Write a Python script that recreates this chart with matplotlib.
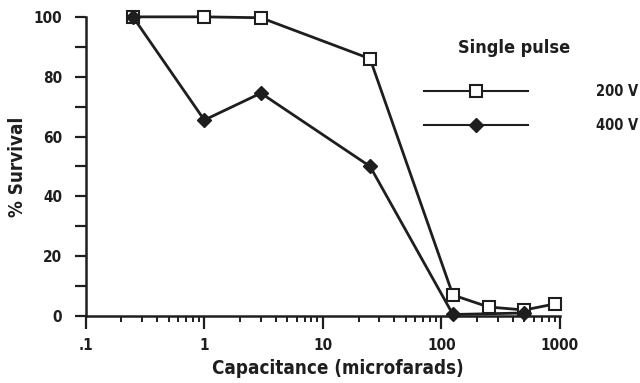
import numpy as np
import matplotlib.pyplot as plt
from matplotlib.ticker import FixedLocator, FixedFormatter, LogLocator, NullFormatter

plt.rcParams['font.family'] = ['DejaVu Sans']
plt.rcParams['font.stretch'] = 'condensed'
plt.rcParams['font.weight'] = 'bold'
plt.rcParams['axes.labelweight'] = 'bold'

"""
data read off the figure
"""
cap_200 = [0.25, 1, 3, 25, 125, 250, 500, 900]
surv_200 = [100, 100, 99.7, 86, 7, 3, 2, 4]

cap_400 = [0.25, 1, 3, 25, 125, 500]
surv_400 = [100, 65.5, 74.5, 50, 0.5, 1]

xticks = [0.1, 1, 10, 100, 1000]
xlabels = ['.1', '1', '10', '100', '1000']
yticks = [0, 20, 40, 60, 80, 100]

ink = '#1e1e1e'

fig = plt.figure(figsize=(6.4, 3.83), dpi=100)
ax = fig.add_axes([0.134, 0.175, 0.741, 0.781])

ax.plot(cap_200, surv_200, color=ink, lw=2, marker='s', ms=9, mfc='white',
        mec=ink, mew=1.5, label='200 V', clip_on=False, zorder=3)
ax.plot(cap_400, surv_400, color=ink, lw=2, marker='D', ms=7, mfc=ink,
        mec=ink, label='400 V', clip_on=False, zorder=3)

ax.set_xscale('log')
ax.set_xlim(0.1, 1000)
ax.set_ylim(0, 100)

ax.xaxis.set_major_locator(FixedLocator(xticks))
ax.xaxis.set_major_formatter(FixedFormatter(xlabels))
ax.xaxis.set_minor_locator(LogLocator(base=10, subs=np.arange(2, 10)))
ax.xaxis.set_minor_formatter(NullFormatter())
ax.set_yticks(yticks)
ax.set_yticks([10, 30, 50, 70, 90], minor=True)

for s in ['top', 'right']:
    ax.spines[s].set_visible(False)
for s in ['left', 'bottom']:
    ax.spines[s].set_linewidth(1.8)
    ax.spines[s].set_color(ink)

ax.tick_params(axis='y', which='both', direction='out', length=8, width=1.6,
               colors=ink, labelsize=11, pad=9)
ax.tick_params(axis='x', which='major', direction='out', length=9, width=1.6,
               colors=ink, labelsize=11, pad=7)
ax.tick_params(axis='x', which='minor', direction='out', length=4, width=1.4,
               colors=ink)

ax.set_xlabel('Capacitance (microfarads)', fontsize=13.5, color=ink, labelpad=4)
ax.xaxis.label.set_x(0.532)
ax.set_ylabel('% Survival', fontsize=13.5, color=ink, labelpad=5)

# legend title as separate text so the rows can sit lower
ax.text(0.903, 0.896, 'Single pulse', transform=ax.transAxes, ha='center',
        va='center', fontsize=13, color=ink, clip_on=False)

leg = ax.legend(loc='upper left', bbox_to_anchor=(0.6855, 0.819), frameon=False,
                fontsize=10.5, handlelength=7.1, handletextpad=4.7,
                labelspacing=1.3, labelcolor=ink)
for h in leg.get_lines():
    h.set_linewidth(1.5)

fig.savefig('out.png', dpi=100)
